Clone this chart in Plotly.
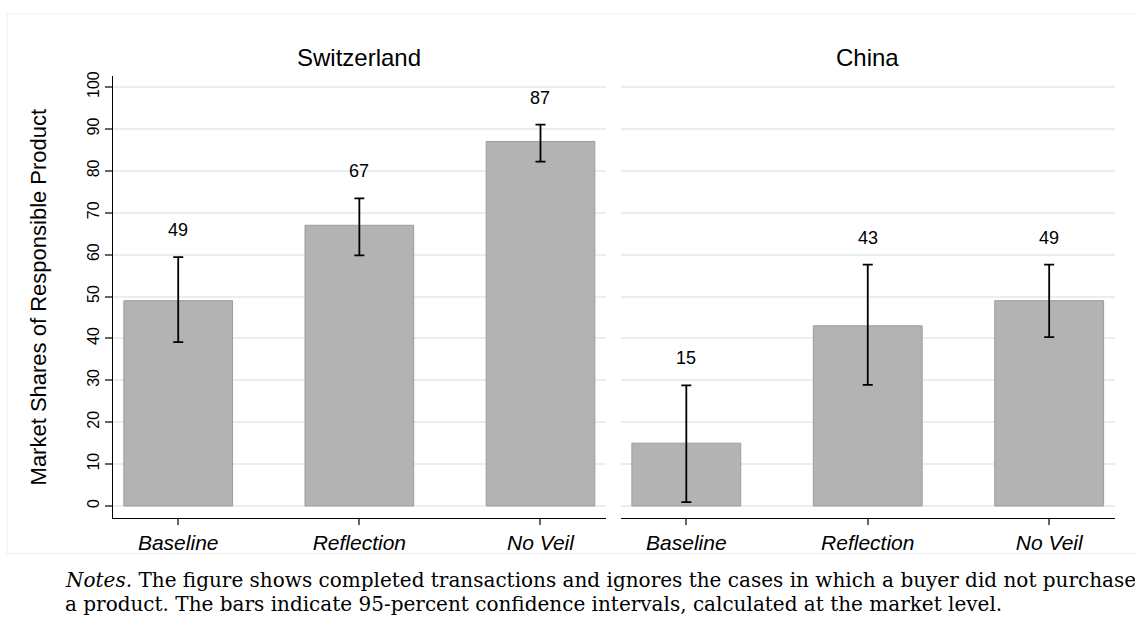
import plotly.graph_objects as go

# ---- data ----
conditions = ["Baseline", "Reflection", "No Veil"]
panels = ["Switzerland", "China"]

ch_share = [49, 67, 87]
ch_ci_low = [39.1, 59.8, 82.2]
ch_ci_high = [59.4, 73.4, 91.0]

cn_share = [15, 43, 49]
cn_ci_low = [0.9, 28.9, 40.3]
cn_ci_high = [28.8, 57.6, 57.6]

y_ticks = [0, 10, 20, 30, 40, 50, 60, 70, 80, 90, 100]

notes_line1 = ("<i>Notes.</i> The figure shows completed transactions and ignores the cases "
               "in which a buyer did not purchase")
notes_line2 = ("a product. The bars indicate 95-percent confidence intervals, "
               "calculated at the market level.")

W, H = 1135, 622
BAR_FILL = "#b3b3b3"
BAR_LINE = "#9c9c9c"
GRID = "#e7eff1"
FONT = "Liberation Sans, Arial, sans-serif"
SERIF = "DejaVu Serif, Liberation Serif, serif"

fig = go.Figure()

series = [
    (ch_share, ch_ci_low, ch_ci_high, "x", "y"),
    (cn_share, cn_ci_low, cn_ci_high, "x2", "y2"),
]
for share, lo, hi, xa, ya in series:
    fig.add_trace(go.Bar(
        x=conditions, y=share, xaxis=xa, yaxis=ya, width=0.6,
        marker=dict(color=BAR_FILL, line=dict(color=BAR_LINE, width=1)),
        error_y=dict(type="data", symmetric=False,
                     array=[h - s for h, s in zip(hi, share)],
                     arrayminus=[s - l for s, l in zip(share, lo)],
                     color="black", thickness=1.8, width=5),
        showlegend=False, hoverinfo="skip",
    ))
    for c, s, h in zip(conditions, share, hi):
        fig.add_annotation(x=c, y=h, xref=xa, yref=ya, text=str(s),
                           showarrow=False, yanchor="middle", yshift=27,
                           font=dict(family=FONT, size=18, color="black"))

# plot area in pixels
y_top_px, y_bot_px = 71.7, 517.3
dom_y = [1 - y_bot_px / H, 1 - y_top_px / H]
dom_x1 = [113 / W, 605.7 / W]
dom_x2 = [621 / W, 1114.5 / W]
xr = [-0.36, 2.36]
yr = [-2.9, 102.6]

xaxis_common = dict(
    type="category", range=xr, showline=True, linecolor="black", linewidth=1.3,
    ticks="outside", ticklen=6, tickwidth=1.5, tickcolor="#666666",
    showgrid=False, zeroline=False,
    tickfont=dict(family=FONT, size=21, color="black", style="italic"),
)
fig.update_layout(
    width=W, height=H,
    margin=dict(l=0, r=0, t=0, b=0),
    paper_bgcolor="white", plot_bgcolor="white",
    bargap=0.4,
    xaxis=dict(domain=dom_x1, anchor="y", **xaxis_common),
    xaxis2=dict(domain=dom_x2, anchor="y2", **xaxis_common),
    yaxis=dict(
        domain=dom_y, anchor="x", range=yr, tickvals=y_ticks,
        showline=True, linecolor="black", linewidth=1.3,
        ticks="outside", ticklen=7, tickwidth=1.5, tickcolor="#666666",
        tickangle=-90, showgrid=True, gridcolor=GRID, gridwidth=1.5,
        zeroline=False, ticklabelstandoff=-1,
        tickfont=dict(family=FONT, size=16, color="black"),
        title=dict(text="Market Shares of Responsible Product",
                   font=dict(family=FONT, size=22, color="black"), standoff=32),
    ),
    yaxis2=dict(
        domain=dom_y, anchor="x2", range=yr, tickvals=y_ticks,
        showline=False, ticks="", showticklabels=False,
        showgrid=True, gridcolor=GRID, gridwidth=1.5, zeroline=False,
    ),
)

# panel titles
for name, dom in zip(panels, [dom_x1, dom_x2]):
    fig.add_annotation(xref="paper", yref="paper", x=(dom[0] + dom[1]) / 2,
                       y=1 - 53 / H, text=name, showarrow=False,
                       yanchor="middle", xanchor="center",
                       font=dict(family=FONT, size=24, color="black"))

# faint outer graph-region frame
fig.add_shape(type="rect", xref="paper", yref="paper",
              x0=7 / W, x1=1.01, y0=1 - 553 / H, y1=1 - 9 / H,
              line=dict(color="#eeeeee", width=1), fillcolor="rgba(0,0,0,0)",
              layer="below")

# notes (two lines, tight leading as in the reference)
for txt, ypx in [(notes_line1, 580), (notes_line2, 604)]:
    fig.add_annotation(xref="paper", yref="paper", x=64 / W, y=1 - ypx / H,
                       xanchor="left", yanchor="middle", align="left",
                       showarrow=False, text=txt, borderpad=0,
                       font=dict(family=SERIF, size=20, color="black"))

fig.write_html("out.html", config={"displayModeBar": False},
               post_script="document.body.style.margin='0px';")
